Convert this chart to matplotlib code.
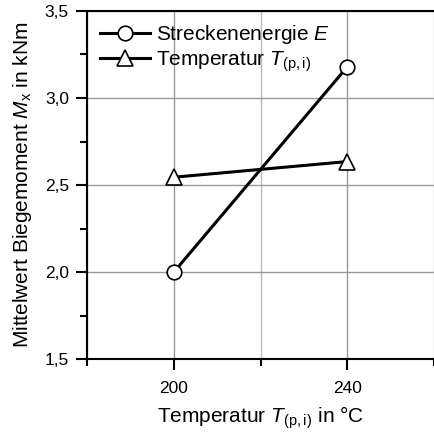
import matplotlib.pyplot as plt
from matplotlib.ticker import MultipleLocator, FuncFormatter

plt.rcParams['font.family'] = ['Liberation Sans', 'DejaVu Sans']
plt.rcParams['mathtext.fontset'] = 'custom'
plt.rcParams['mathtext.it'] = 'Liberation Sans:italic'
plt.rcParams['mathtext.rm'] = 'Liberation Sans'

# Daten
temperatur = [200, 240]
streckenenergie = [2.00, 3.18]
temp_werte = [2.545, 2.635]

fig = plt.figure(figsize=(4.34, 4.38), dpi=100)
ax = fig.add_axes([0.2005, 0.180, 0.80, 0.795])

ax.plot(temperatur, streckenenergie, color='black', lw=2.2, marker='o', ms=10.5,
        mfc='white', mec='black', mew=1.2, label=r'Streckenenergie $E$', zorder=3)
ax.plot(temperatur, temp_werte, color='black', lw=2.2, marker='^', ms=11.5,
        mfc='white', mec='black', mew=1.2, label=r'Temperatur $T_{\mathrm{(p,i)}}$', zorder=3)

ax.set_xlim(180, 260)
ax.set_ylim(1.5, 3.5)
ax.xaxis.set_major_locator(MultipleLocator(40))
ax.xaxis.set_minor_locator(MultipleLocator(20))
ax.yaxis.set_major_locator(MultipleLocator(0.5))
ax.yaxis.set_minor_locator(MultipleLocator(0.25))
ax.yaxis.set_major_formatter(FuncFormatter(lambda v, p: f'{v:.1f}'.replace('.', ',')))
ax.set_xticks([200, 240])

ax.grid(True, which='major', color='#999999', lw=1)
ax.grid(True, which='minor', axis='x', color='#bbbbbb', lw=1)

ax.tick_params(which='both', direction='out', width=1.5, labelsize=12.5)
ax.tick_params(which='major', length=8, pad=5)
ax.tick_params(which='minor', length=5)
ax.tick_params(axis='x', which='major', pad=8)
ax.spines['right'].set_visible(False)
for s in ['left', 'bottom', 'top']:
    ax.spines[s].set_linewidth(1.5)

ax.set_xlabel(r'Temperatur $T_{\mathrm{(p,i)}}$ in °C', fontsize=15, labelpad=6)
ax.set_ylabel(r'Mittelwert Biegemoment $M_{\mathrm{x}}$ in kNm', fontsize=15, labelpad=8)

ax.legend(loc='upper left', frameon=False, fontsize=15, handlelength=2.4,
          borderaxespad=0.2, labelspacing=0.15, handletextpad=0.3)

fig.savefig('out.png', dpi=100)
